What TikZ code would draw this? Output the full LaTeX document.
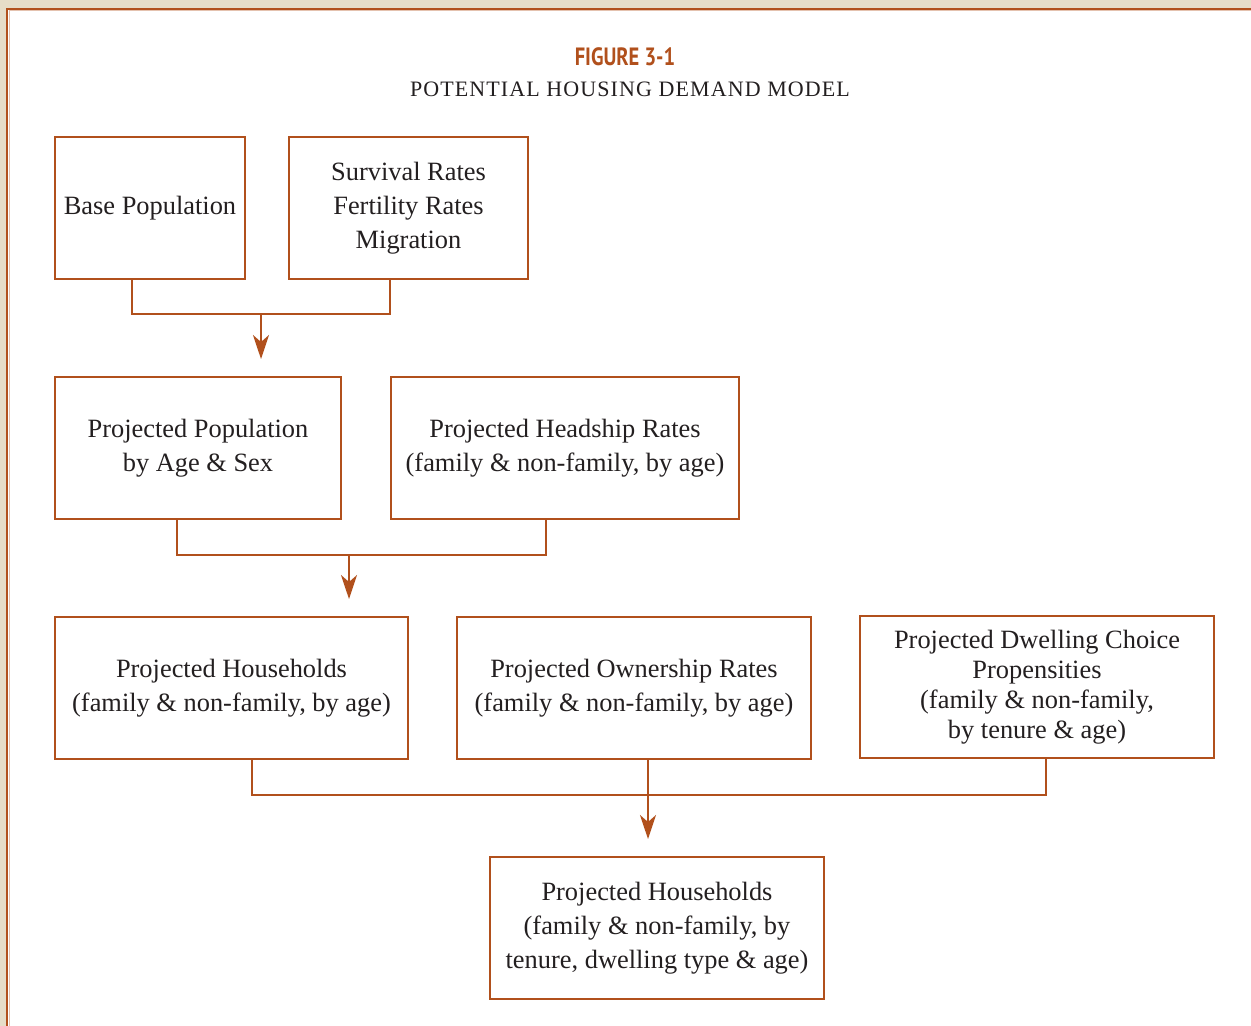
\documentclass[tikz,border=0pt]{standalone}
\usepackage{fontspec}
\setmainfont{Liberation Serif}
\newfontfamily\figfont[FakeStretch=0.82]{PT Sans}
\newfontfamily\subfont[LetterSpace=5]{Liberation Serif}
\usetikzlibrary{arrows.meta}
\definecolor{rust}{HTML}{B1501C}
\definecolor{beige}{HTML}{E6DDC8}
\definecolor{ink}{HTML}{231F20}
\tikzset{
  box/.style={draw=rust, line width=0.75pt, fill=white, inner sep=0pt, align=center,
    text=ink, font=\fontsize{13.2}{17}\selectfont, minimum height=71pt},
  conn/.style={draw=rust, line width=0.75pt},
  arr/.style={conn, -{Stealth[length=12pt, width=8pt, inset=3.5pt]}}
}
\begin{document}
\begin{tikzpicture}[x=0.5pt, y=-0.5pt]
\useasboundingbox (0,0) rectangle (1251,1026);
\fill[beige] (0,0) rectangle (1251,1026);
\begin{scope}
\clip (0,0) rectangle (1251,1026);
\draw[rust, line width=1.1pt, fill=white] (7,9) rectangle (1300,1100);
\draw[rust!35, line width=0.5pt] (9,11) -- (1300,11);
\draw[rust!35, line width=0.5pt] (9,11) -- (9,1100);
\end{scope}
\node[font=\figfont\bfseries\fontsize{12.5}{14}\selectfont, text=rust] (title) at (625,57) {FIGURE 3-1};
\node[font=\subfont\fontsize{11}{13}\selectfont, text=ink] (subtitle) at (630,89) {POTENTIAL HOUSING DEMAND MODEL};

\node[box, minimum width=95pt] (b1) at (150,208) {Base Population};
\node[box, minimum width=119.5pt] (b2) at (408.5,208) {Survival Rates\\Fertility Rates\\Migration};
\node[box, minimum width=143pt] (b3) at (198,448) {Projected Population\\by Age \& Sex};
\node[box, minimum width=174pt] (b4) at (565,448) {Projected Headship Rates\\(family \& non-family, by age)};
\node[box, minimum width=176.5pt] (b5) at (231.5,688) {Projected Households\\(family \& non-family, by age)};
\node[box, minimum width=177pt] (b6) at (634,688) {Projected Ownership Rates\\(family \& non-family, by age)};
\node[box, minimum width=177pt, font=\fontsize{13.2}{15}\selectfont] (b7) at (1037,687) {Projected Dwelling Choice\\Propensities\\(family \& non-family,\\by tenure \& age)};
\node[box, minimum width=167pt] (b8) at (657,928) {Projected Households\\(family \& non-family, by\\tenure, dwelling type \& age)};

\coordinate (j1) at (261,314);
\coordinate (a1) at (261,359);
\coordinate (j2) at (349,555);
\coordinate (a2) at (349,599);
\coordinate (j3) at (648,795);
\coordinate (a3) at (648,839);

\draw[conn] (b1.south -| 132,0) |- (j1) -| (b2.south -| 390,0);
\draw[arr] (j1) -- (a1);
\draw[conn] (b3.south -| 177,0) |- (j2) -| (b4.south -| 546,0);
\draw[arr] (j2) -- (a2);
\draw[conn] (b5.south -| 252,0) |- (j3) -| (b7.south -| 1046,0);
\draw[arr] (b6.south -| j3) -- (a3);
\end{tikzpicture}
\end{document}
